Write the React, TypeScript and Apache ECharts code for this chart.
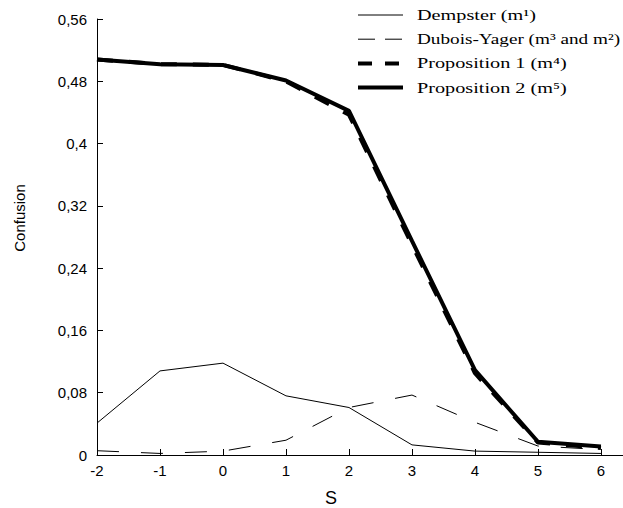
import React, { useEffect, useRef } from "react";
import * as echarts from "echarts";

const sValues = [-2, -1, 0, 1, 2, 3, 4, 5, 6];
const dempster = [0.041, 0.108, 0.118, 0.076, 0.061, 0.013, 0.005, 0.0035, 0.002];
const duboisYager = [0.0055, 0.002, 0.005, 0.019, 0.061, 0.077, 0.042, 0.0115, 0.007];
const proposition1 = [0.508, 0.502, 0.501, 0.48, 0.437, 0.27, 0.105, 0.016, 0.009];
const proposition2 = [0.508, 0.502, 0.501, 0.481, 0.442, 0.275, 0.109, 0.017, 0.011];
const seriesNames = [
  "Dempster (m¹)",
  "Dubois-Yager (m³ and m²)",
  "Proposition 1 (m⁴)",
  "Proposition 2 (m⁵)",
];
const xTicks = [-2, -1, 0, 1, 2, 3, 4, 5, 6];

const pairs = (ys: number[]) => sValues.map((x, i) => [x, ys[i]]);

// legend line styles and text stretch, in the order of seriesNames
const legendStyles = [
  { width: 1, dash: null as number[] | null, stretch: 1.35 },
  { width: 1, dash: [17, 10], stretch: 1.28 },
  { width: 4, dash: [14, 13], stretch: 1.35 },
  { width: 4, dash: null as number[] | null, stretch: 1.35 },
];

export default function App() {
  const ref = useRef<HTMLDivElement>(null);
  useEffect(() => {
    if (!ref.current) return;
    const chart = echarts.init(ref.current, undefined, { renderer: "svg" });
    const sans = "Liberation Sans, Arial, sans-serif";
    const serif = "Liberation Serif, Times New Roman, serif";

    const legendGraphics: any[] = [];
    seriesNames.forEach((name, i) => {
      const cy = 15 + i * 24.2;
      const st = legendStyles[i];
      legendGraphics.push({
        type: "line",
        shape: { x1: 358, y1: cy, x2: 403, y2: cy },
        style: {
          stroke: "#000",
          lineWidth: st.width,
          lineDash: st.dash || undefined,
        },
      });
      legendGraphics.push({
        type: "text",
        x: 417,
        y: cy,
        scaleX: st.stretch,
        style: {
          text: name,
          fill: "#000",
          font: `15px ${serif}`,
          textAlign: "left",
          textVerticalAlign: "middle",
        },
      });
    });

    chart.setOption({
      animation: false,
      backgroundColor: "#ffffff",
      grid: { left: 97, right: 0, top: 19, bottom: 53 },
      xAxis: {
        type: "value",
        min: -2,
        max: 6.35,
        interval: 1,
        splitLine: { show: false },
        axisLine: { show: true, onZero: false, lineStyle: { color: "#000", width: 1 } },
        axisTick: { show: true, inside: true, length: 6, customValues: xTicks, lineStyle: { color: "#000" } },
        axisLabel: {
          customValues: xTicks,
          color: "#000",
          fontFamily: sans,
          fontSize: 15,
          margin: 8,
        },
      },
      yAxis: {
        type: "value",
        min: 0,
        max: 0.56,
        interval: 0.08,
        splitLine: { show: false },
        axisLine: { show: true, onZero: false, lineStyle: { color: "#000", width: 1 } },
        axisTick: { show: true, inside: true, length: 6, lineStyle: { color: "#000" } },
        axisLabel: {
          color: "#000",
          fontFamily: sans,
          fontSize: 15,
          margin: 10,
          formatter: (v: number) => String(parseFloat(v.toFixed(2))).replace(".", ","),
        },
      },
      graphic: [
        ...legendGraphics,
        {
          type: "text",
          x: 19,
          y: 218,
          rotation: Math.PI / 2,
          style: {
            text: "Confusion",
            fill: "#000",
            font: `15px ${sans}`,
            textAlign: "center",
            textVerticalAlign: "middle",
          },
        },
        {
          type: "text",
          x: 331,
          y: 498,
          style: {
            text: "S",
            fill: "#000",
            font: `18px ${sans}`,
            textAlign: "center",
            textVerticalAlign: "middle",
          },
        },
      ],
      series: [
        {
          name: seriesNames[0],
          type: "line",
          data: pairs(dempster),
          symbol: "none",
          lineStyle: { color: "#000", width: 1 },
          itemStyle: { color: "#000" },
        },
        {
          name: seriesNames[1],
          type: "line",
          data: pairs(duboisYager),
          symbol: "none",
          lineStyle: { color: "#000", width: 1, type: [22, 22] },
          itemStyle: { color: "#000" },
        },
        {
          name: seriesNames[3],
          type: "line",
          data: pairs(proposition2),
          symbol: "none",
          lineStyle: { color: "#000", width: 4 },
          itemStyle: { color: "#000" },
        },
        {
          name: seriesNames[2],
          type: "line",
          data: pairs(proposition1),
          symbol: "none",
          lineStyle: { color: "#000", width: 4, type: [16, 16] },
          itemStyle: { color: "#000" },
        },
      ],
    });
    return () => chart.dispose();
  }, []);
  return (
    <div
      ref={ref}
      style={{ position: "absolute", left: 0, top: 0, width: 623, height: 508 }}
    />
  );
}
